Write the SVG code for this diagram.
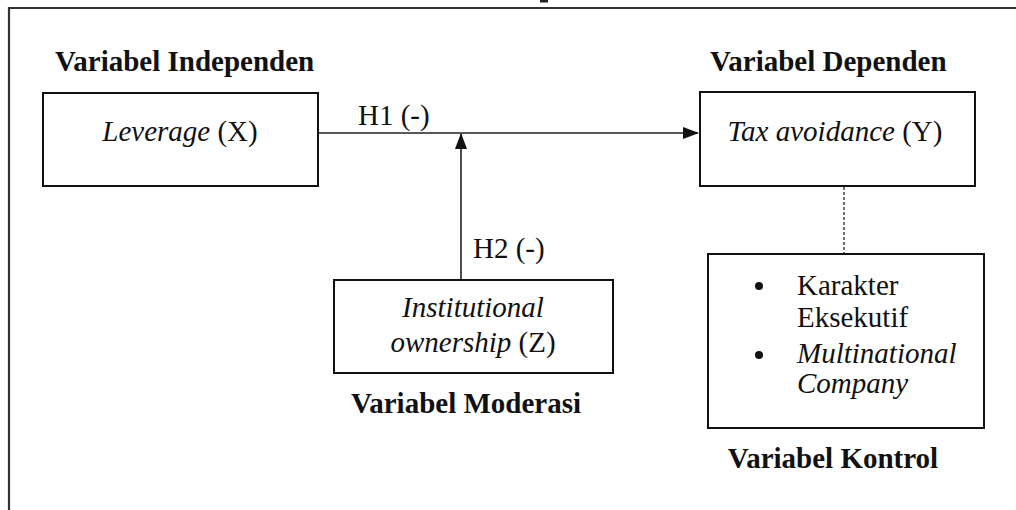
<svg xmlns="http://www.w3.org/2000/svg" width="1016" height="510" viewBox="0 0 1016 510">
<style>
text{font-family:"Liberation Serif","Times New Roman",serif;fill:#111;}
.h{font-weight:bold;font-size:29px;}
.t{font-size:29px;}
.i{font-style:italic;}
.box{fill:#fff;stroke:#111;stroke-width:2;}
.ln{stroke:#222;stroke-width:1.6;fill:none;}
</style>
<defs>
<marker id="ah" markerWidth="16" markerHeight="12" refX="15" refY="6" orient="auto" markerUnits="userSpaceOnUse">
<path d="M0,0 L16,6 L0,12 z" fill="#111"/>
</marker>
</defs>
<rect x="0" y="0" width="1016" height="510" fill="#fff"/>
<g id="frame">
<path d="M9,510 V8 H1016" fill="none" stroke="#333" stroke-width="2.2"/>
<rect x="540" y="0" width="8" height="2.5" fill="#222"/>
</g>
<g id="connectors">
<line class="ln" x1="318" y1="133" x2="698" y2="133" marker-end="url(#ah)"/>
<line class="ln" x1="461" y1="280" x2="461" y2="134" marker-end="url(#ah)"/>
<line x1="844" y1="187" x2="844" y2="254" stroke="#333" stroke-width="1.4" stroke-dasharray="3,2"/>
<text class="t" x="358" y="125">H1 (-)</text>
<text class="t" x="473" y="258">H2 (-)</text>
</g>
<g id="node-x">
<text class="h" x="55" y="71">Variabel Independen</text>
<rect class="box" x="43" y="93" width="275" height="93"/>
<text class="t" x="180" y="141" text-anchor="middle"><tspan class="i">Leverage</tspan> (X)</text>
</g>
<g id="node-y">
<text class="h" x="710" y="71">Variabel Dependen</text>
<rect class="box" x="700" y="92" width="275" height="94"/>
<text class="t" x="835" y="141" text-anchor="middle"><tspan class="i">Tax avoidance</tspan> (Y)</text>
</g>
<g id="node-z">
<rect class="box" x="334" y="280" width="279" height="93"/>
<text class="t i" x="473" y="317" text-anchor="middle">Institutional</text>
<text class="t" x="473" y="352" text-anchor="middle"><tspan class="i">ownership</tspan> (Z)</text>
<text class="h" x="466" y="413" text-anchor="middle">Variabel Moderasi</text>
</g>
<g id="node-control">
<rect class="box" x="708" y="254" width="276" height="174"/>
<circle cx="759" cy="286" r="4" fill="#111"/>
<circle cx="759" cy="355" r="4" fill="#111"/>
<text class="t" x="797" y="295">Karakter</text>
<text class="t" x="797" y="327">Eksekutif</text>
<text class="t i" x="797" y="363">Multinational</text>
<text class="t i" x="797" y="393">Company</text>
<text class="h" x="833" y="468" text-anchor="middle">Variabel Kontrol</text>
</g>
</svg>
